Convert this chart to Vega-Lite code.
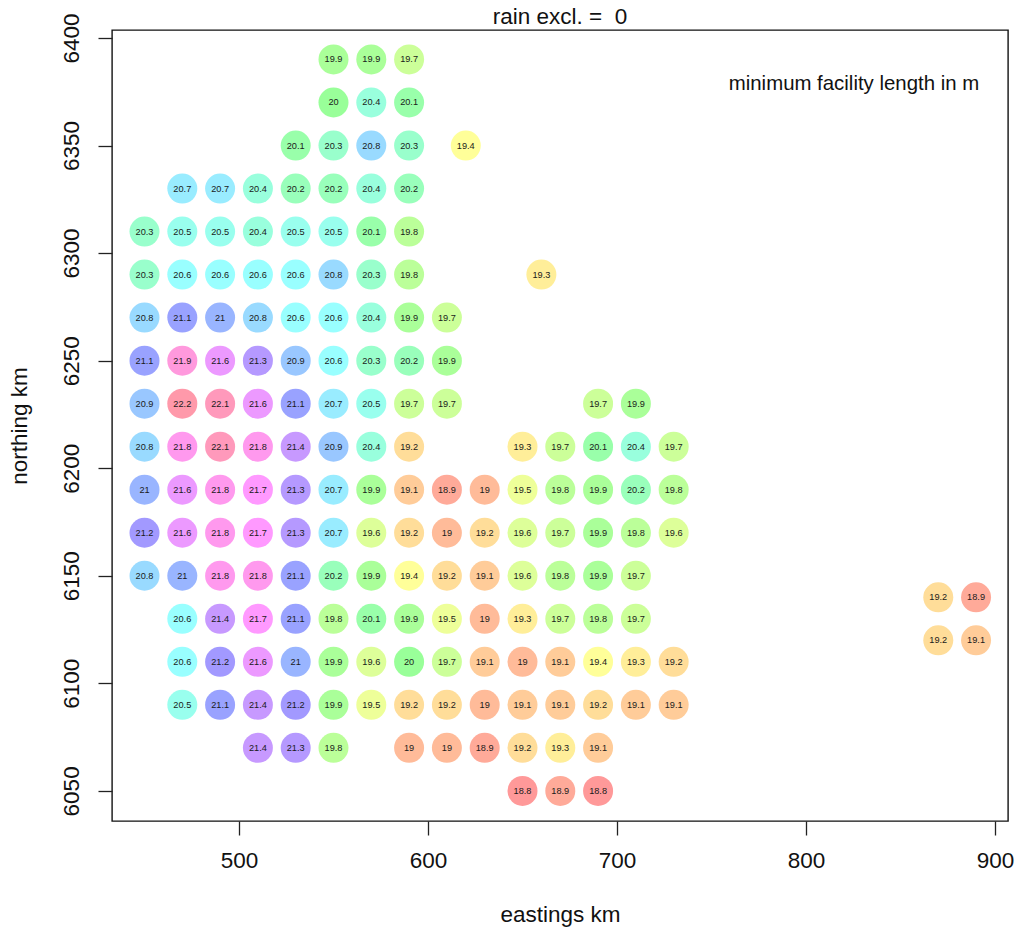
{"$schema":"https://vega.github.io/schema/vega-lite/v6.json","width":896,"height":791,"autosize":"none","padding":{"left":112,"top":30,"right":7,"bottom":107},"background":"white","title":{"text":"rain excl. = \u00a00","anchor":"middle","font":"Liberation Sans","fontSize":22.5,"fontWeight":"normal","color":"#111111","offset":-16},"config":{"view":{"stroke":"#111111","strokeWidth":1.4},"font":"Liberation Sans"},"datasets":{"cells":[
{"e":550,"n":6390,"v":19.9},{"e":570,"n":6390,"v":19.9},{"e":590,"n":6390,"v":19.7},
{"e":550,"n":6370,"v":20},{"e":570,"n":6370,"v":20.4},{"e":590,"n":6370,"v":20.1},
{"e":530,"n":6350,"v":20.1},{"e":550,"n":6350,"v":20.3},{"e":570,"n":6350,"v":20.8},{"e":590,"n":6350,"v":20.3},{"e":620,"n":6350,"v":19.4},
{"e":470,"n":6330,"v":20.7},{"e":490,"n":6330,"v":20.7},{"e":510,"n":6330,"v":20.4},{"e":530,"n":6330,"v":20.2},{"e":550,"n":6330,"v":20.2},{"e":570,"n":6330,"v":20.4},{"e":590,"n":6330,"v":20.2},
{"e":450,"n":6310,"v":20.3},{"e":470,"n":6310,"v":20.5},{"e":490,"n":6310,"v":20.5},{"e":510,"n":6310,"v":20.4},{"e":530,"n":6310,"v":20.5},{"e":550,"n":6310,"v":20.5},{"e":570,"n":6310,"v":20.1},{"e":590,"n":6310,"v":19.8},
{"e":450,"n":6290,"v":20.3},{"e":470,"n":6290,"v":20.6},{"e":490,"n":6290,"v":20.6},{"e":510,"n":6290,"v":20.6},{"e":530,"n":6290,"v":20.6},{"e":550,"n":6290,"v":20.8},{"e":570,"n":6290,"v":20.3},{"e":590,"n":6290,"v":19.8},{"e":660,"n":6290,"v":19.3},
{"e":450,"n":6270,"v":20.8},{"e":470,"n":6270,"v":21.1},{"e":490,"n":6270,"v":21},{"e":510,"n":6270,"v":20.8},{"e":530,"n":6270,"v":20.6},{"e":550,"n":6270,"v":20.6},{"e":570,"n":6270,"v":20.4},{"e":590,"n":6270,"v":19.9},{"e":610,"n":6270,"v":19.7},
{"e":450,"n":6250,"v":21.1},{"e":470,"n":6250,"v":21.9},{"e":490,"n":6250,"v":21.6},{"e":510,"n":6250,"v":21.3},{"e":530,"n":6250,"v":20.9},{"e":550,"n":6250,"v":20.6},{"e":570,"n":6250,"v":20.3},{"e":590,"n":6250,"v":20.2},{"e":610,"n":6250,"v":19.9},
{"e":450,"n":6230,"v":20.9},{"e":470,"n":6230,"v":22.2},{"e":490,"n":6230,"v":22.1},{"e":510,"n":6230,"v":21.6},{"e":530,"n":6230,"v":21.1},{"e":550,"n":6230,"v":20.7},{"e":570,"n":6230,"v":20.5},{"e":590,"n":6230,"v":19.7},{"e":610,"n":6230,"v":19.7},{"e":690,"n":6230,"v":19.7},{"e":710,"n":6230,"v":19.9},
{"e":450,"n":6210,"v":20.8},{"e":470,"n":6210,"v":21.8},{"e":490,"n":6210,"v":22.1},{"e":510,"n":6210,"v":21.8},{"e":530,"n":6210,"v":21.4},{"e":550,"n":6210,"v":20.9},{"e":570,"n":6210,"v":20.4},{"e":590,"n":6210,"v":19.2},{"e":650,"n":6210,"v":19.3},{"e":670,"n":6210,"v":19.7},{"e":690,"n":6210,"v":20.1},{"e":710,"n":6210,"v":20.4},{"e":730,"n":6210,"v":19.7},
{"e":450,"n":6190,"v":21},{"e":470,"n":6190,"v":21.6},{"e":490,"n":6190,"v":21.8},{"e":510,"n":6190,"v":21.7},{"e":530,"n":6190,"v":21.3},{"e":550,"n":6190,"v":20.7},{"e":570,"n":6190,"v":19.9},{"e":590,"n":6190,"v":19.1},{"e":610,"n":6190,"v":18.9},{"e":630,"n":6190,"v":19},{"e":650,"n":6190,"v":19.5},{"e":670,"n":6190,"v":19.8},{"e":690,"n":6190,"v":19.9},{"e":710,"n":6190,"v":20.2},{"e":730,"n":6190,"v":19.8},
{"e":450,"n":6170,"v":21.2},{"e":470,"n":6170,"v":21.6},{"e":490,"n":6170,"v":21.8},{"e":510,"n":6170,"v":21.7},{"e":530,"n":6170,"v":21.3},{"e":550,"n":6170,"v":20.7},{"e":570,"n":6170,"v":19.6},{"e":590,"n":6170,"v":19.2},{"e":610,"n":6170,"v":19},{"e":630,"n":6170,"v":19.2},{"e":650,"n":6170,"v":19.6},{"e":670,"n":6170,"v":19.7},{"e":690,"n":6170,"v":19.9},{"e":710,"n":6170,"v":19.8},{"e":730,"n":6170,"v":19.6},
{"e":450,"n":6150,"v":20.8},{"e":470,"n":6150,"v":21},{"e":490,"n":6150,"v":21.8},{"e":510,"n":6150,"v":21.8},{"e":530,"n":6150,"v":21.1},{"e":550,"n":6150,"v":20.2},{"e":570,"n":6150,"v":19.9},{"e":590,"n":6150,"v":19.4},{"e":610,"n":6150,"v":19.2},{"e":630,"n":6150,"v":19.1},{"e":650,"n":6150,"v":19.6},{"e":670,"n":6150,"v":19.8},{"e":690,"n":6150,"v":19.9},{"e":710,"n":6150,"v":19.7},
{"e":470,"n":6130,"v":20.6},{"e":490,"n":6130,"v":21.4},{"e":510,"n":6130,"v":21.7},{"e":530,"n":6130,"v":21.1},{"e":550,"n":6130,"v":19.8},{"e":570,"n":6130,"v":20.1},{"e":590,"n":6130,"v":19.9},{"e":610,"n":6130,"v":19.5},{"e":630,"n":6130,"v":19},{"e":650,"n":6130,"v":19.3},{"e":670,"n":6130,"v":19.7},{"e":690,"n":6130,"v":19.8},{"e":710,"n":6130,"v":19.7},
{"e":470,"n":6110,"v":20.6},{"e":490,"n":6110,"v":21.2},{"e":510,"n":6110,"v":21.6},{"e":530,"n":6110,"v":21},{"e":550,"n":6110,"v":19.9},{"e":570,"n":6110,"v":19.6},{"e":590,"n":6110,"v":20},{"e":610,"n":6110,"v":19.7},{"e":630,"n":6110,"v":19.1},{"e":650,"n":6110,"v":19},{"e":670,"n":6110,"v":19.1},{"e":690,"n":6110,"v":19.4},{"e":710,"n":6110,"v":19.3},{"e":730,"n":6110,"v":19.2},
{"e":470,"n":6090,"v":20.5},{"e":490,"n":6090,"v":21.1},{"e":510,"n":6090,"v":21.4},{"e":530,"n":6090,"v":21.2},{"e":550,"n":6090,"v":19.9},{"e":570,"n":6090,"v":19.5},{"e":590,"n":6090,"v":19.2},{"e":610,"n":6090,"v":19.2},{"e":630,"n":6090,"v":19},{"e":650,"n":6090,"v":19.1},{"e":670,"n":6090,"v":19.1},{"e":690,"n":6090,"v":19.2},{"e":710,"n":6090,"v":19.1},{"e":730,"n":6090,"v":19.1},
{"e":510,"n":6070,"v":21.4},{"e":530,"n":6070,"v":21.3},{"e":550,"n":6070,"v":19.8},{"e":590,"n":6070,"v":19},{"e":610,"n":6070,"v":19},{"e":630,"n":6070,"v":18.9},{"e":650,"n":6070,"v":19.2},{"e":670,"n":6070,"v":19.3},{"e":690,"n":6070,"v":19.1},
{"e":650,"n":6050,"v":18.8},{"e":670,"n":6050,"v":18.9},{"e":690,"n":6050,"v":18.8},
{"e":870,"n":6140,"v":19.2},{"e":890,"n":6140,"v":18.9},{"e":870,"n":6120,"v":19.2},{"e":890,"n":6120,"v":19.1}
],"note":[{"e":825.4,"n":6378.6,"t":"minimum facility length in m"}]},
"layer":[
{"data":{"name":"cells"},"mark":{"type":"circle","size":900,"opacity":1},"encoding":{
"x":{"field":"e","type":"quantitative","scale":{"domain":[432.8,906.9],"nice":false,"zero":false},"axis":{"values":[500,600,700,800,900],"title":"eastings km","domain":false,"grid":false,"tickSize":14,"tickWidth":1.3,"tickColor":"#222222","labelFont":"Liberation Sans","labelFontSize":22.5,"labelColor":"#111111","labelPadding":14,"labelOverlap":false,"labelFlush":false,"labelBound":false,"titleFont":"Liberation Sans","titleFontSize":22.5,"titleFontWeight":"normal","titleColor":"#111111","titlePadding":32}},
"y":{"field":"n","type":"quantitative","scale":{"domain":[6036,6403.7],"nice":false,"zero":false},"axis":{"values":[6050,6100,6150,6200,6250,6300,6350,6400],"format":"d","title":"northing km","domain":false,"grid":false,"tickSize":14,"tickWidth":1.3,"tickColor":"#222222","labelFont":"Liberation Sans","labelFontSize":22.5,"labelColor":"#111111","labelAngle":-90,"labelAlign":"center","labelBaseline":"bottom","labelPadding":15,"labelOverlap":false,"labelFlush":false,"labelBound":false,"titleFont":"Liberation Sans","titleFontSize":22.5,"titleFontWeight":"normal","titleColor":"#111111","titlePadding":29}},
"color":{"field":"v","type":"quantitative","legend":null,"scale":{"type":"linear","domain":[18.8,19.4,20,20.6,21.15,21.7,22.2],"range":["#ff9999","#ffff99","#99ff99","#99ffff","#9999ff","#ff99ff","#ff99aa"],"interpolate":"rgb"}}}},
{"data":{"name":"cells"},"mark":{"type":"text","font":"Liberation Sans","fontSize":9.2,"color":"#1a1a1a","baseline":"middle","align":"center"},"encoding":{
"x":{"field":"e","type":"quantitative"},"y":{"field":"n","type":"quantitative"},"text":{"field":"v","type":"nominal"}}},
{"data":{"name":"note"},"mark":{"type":"text","font":"Liberation Sans","fontSize":20.4,"color":"#111111","baseline":"middle","align":"center"},"encoding":{
"x":{"field":"e","type":"quantitative"},"y":{"field":"n","type":"quantitative"},"text":{"field":"t","type":"nominal"}}}
]}
